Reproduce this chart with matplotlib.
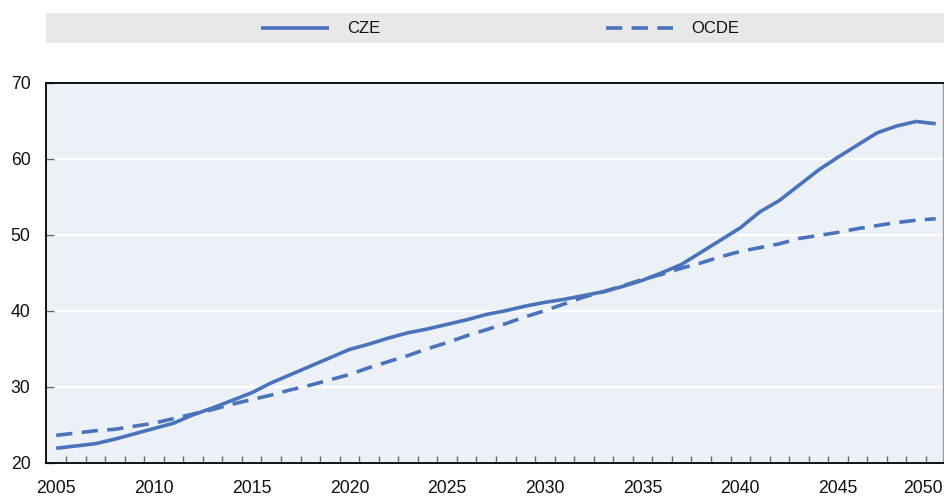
import matplotlib
matplotlib.use("Agg")
import matplotlib.pyplot as plt
from matplotlib import font_manager
from matplotlib.lines import Line2D
import matplotlib.transforms as mtransforms
import numpy as np

years = list(range(2005, 2051))
cze = [21.9, 22.2, 22.5, 23.1, 23.8, 24.5, 25.2, 26.3, 27.2, 28.2,
       29.2, 30.5, 31.6, 32.7, 33.8, 34.9, 35.6, 36.4, 37.1, 37.6,
       38.2, 38.8, 39.5, 40.0, 40.6, 41.1, 41.5, 42.0, 42.5, 43.2,
       44.0, 45.0, 46.1, 47.7, 49.3, 50.9, 53.0, 54.5, 56.5, 58.5,
       60.2, 61.8, 63.4, 64.3, 64.9, 64.6]
ocde = [23.6, 23.9, 24.2, 24.4, 24.8, 25.2, 25.8, 26.4, 27.0, 27.7,
        28.3, 28.9, 29.6, 30.2, 30.9, 31.6, 32.5, 33.3, 34.1, 35.0,
        35.8, 36.7, 37.5, 38.3, 39.2, 40.0, 40.9, 41.8, 42.5, 43.3,
        44.1, 44.8, 45.6, 46.3, 47.1, 47.8, 48.3, 48.8, 49.5, 49.9,
        50.3, 50.8, 51.2, 51.6, 51.9, 52.1]
series_names = ["CZE", "OCDE"]
yticks = [20, 30, 40, 50, 60, 70]
xlabel_years = [2005, 2010, 2015, 2020, 2025, 2030, 2035, 2040, 2045, 2050]

available = {f.name for f in font_manager.fontManager.ttflist}
base_font = "Liberation Sans" if "Liberation Sans" in available else "DejaVu Sans"
narrow_font = "Liberation Sans Narrow" if "Liberation Sans Narrow" in available else base_font
plt.rcParams["font.family"] = [base_font, "DejaVu Sans"]

W, H = 945, 499
fig = plt.figure(figsize=(W / 100, H / 100), dpi=100)

BLUE = "#4a73bb"
BG = "#ecf0f7"

left_px, right_px = 46.45, 943.0
bottom_px, top_px = 462.7, 82.7
ax = fig.add_axes([left_px / W, (H - bottom_px) / H,
                   (right_px - left_px) / W, (bottom_px - top_px) / H])
ax.set_facecolor(BG)

x = np.arange(len(years))
lw = 2.6
ax.plot(x, cze, color=BLUE, lw=lw, solid_capstyle="butt", zorder=3)
ax.plot(x, ocde, color=BLUE, lw=lw, linestyle=(0, (4.5, 2.6)),
        dash_capstyle="butt", zorder=3)

cat_w = (945.5 - left_px) / 46.0
ax.set_xlim(-0.5, -0.5 + (right_px - left_px) / cat_w)
ax.set_ylim(20, 70)

ax.set_yticks(yticks)
ax.yaxis.grid(True, color="white", lw=1.6)
ax.set_axisbelow(True)
ax.tick_params(axis="y", direction="in", length=5.5, width=1, color="#666666",
               labelsize=12.7, pad=11.5, labelcolor="#111111")

ax.set_xticks([years.index(y) for y in xlabel_years])
ax.set_xticklabels([str(y) for y in xlabel_years])
ax.set_xticks(np.arange(0.5, len(years) - 1, 1.0), minor=True)
ax.tick_params(axis="x", which="major", length=0, labelsize=12.7, pad=12.5,
               labelcolor="#111111")
ax.tick_params(axis="x", which="minor", direction="in", length=5, width=1,
               color="#666666")

for s in ["left", "bottom", "top"]:
    ax.spines[s].set_color("black")
    ax.spines[s].set_linewidth(1.3)
ax.spines["right"].set_color("#9a9a9a")
ax.spines["right"].set_linewidth(1.0)

# shift last tick label to stay inside the figure
lbls = ax.get_xticklabels()
offset = mtransforms.ScaledTranslation(-13 / 100, 0, fig.dpi_scale_trans)
lbls[-1].set_transform(lbls[-1].get_transform() + offset)

# legend band
lax = fig.add_axes([46 / W, (H - 43.3) / H, (945 - 46) / W, 30.6 / H])
lax.set_xlim(46, 945)
lax.set_ylim(43.3, 12.7)
lax.set_facecolor("#e8e8e8")
for s in lax.spines.values():
    s.set_visible(False)
lax.set_xticks([])
lax.set_yticks([])
ly = 28.3
leg_fs = 13.5 if narrow_font != base_font else 12.0
lax.add_line(Line2D([260.7, 329.3], [ly, ly], color=BLUE, lw=lw,
                    solid_capstyle="butt"))
lax.text(346.7, ly + 0.5, series_names[0], fontsize=leg_fs, family=narrow_font,
         va="center", ha="left", color="#111111")
lax.add_line(Line2D([606, 673.3], [ly, ly], color=BLUE, lw=lw,
                    linestyle=(0, (4.5, 2.6)), dash_capstyle="butt"))
lax.text(691.7, ly + 0.5, series_names[1], fontsize=leg_fs, family=narrow_font,
         va="center", ha="left", color="#111111")

fig.savefig("out.png", dpi=100)
